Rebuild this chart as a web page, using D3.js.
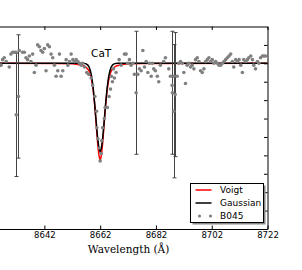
<!DOCTYPE html>
<html>
<meta charset="utf-8">
<script src="https://cdn.jsdelivr.net/npm/d3@7/dist/d3.min.js"></script>
<title>CaT line fit</title>
<style>
body { margin: 0; background: #fff; }
</style>
<body>
<script type="text/javascript">

// observed spectrum (B045)
var specWave = [8626.0, 8626.5, 8627.0, 8627.6, 8628.3, 8629.4, 8630.0, 8630.6, 8631.2, 8631.8,
    8633.0, 8634.2, 8634.8, 8635.4, 8636.0, 8636.6, 8637.2, 8637.8, 8638.4, 8639.0,
    8639.6, 8640.2, 8640.8, 8641.4, 8642.0, 8642.6, 8643.2, 8643.8, 8644.4, 8645.0,
    8645.6, 8646.2, 8646.8, 8647.4, 8648.0, 8648.6, 8649.8, 8650.4, 8651.0, 8651.6,
    8652.2, 8652.8, 8653.4, 8654.0, 8654.6, 8655.2, 8655.7, 8656.4, 8657.2, 8657.9,
    8658.8, 8659.3, 8660.1, 8660.7, 8660.8, 8661.2, 8661.7, 8662.0, 8662.4, 8662.6,
    8662.9, 8663.5, 8663.8, 8664.6, 8665.2, 8665.7, 8666.0, 8666.4, 8666.8, 8667.1,
    8667.7, 8668.8, 8669.5, 8670.7, 8671.3, 8671.9, 8672.5, 8673.1, 8673.7, 8674.3,
    8675.5, 8676.1, 8676.7, 8677.3, 8677.9, 8678.5, 8679.1, 8679.7, 8680.3, 8680.7,
    8681.2, 8681.8, 8682.5, 8683.0, 8683.6, 8684.8, 8685.4, 8686.6, 8687.2, 8687.8,
    8688.4, 8689.6, 8690.2, 8690.8, 8691.4, 8692.0, 8692.6, 8693.2, 8693.8, 8694.4,
    8695.0, 8695.6, 8696.2, 8696.8, 8697.4, 8698.0, 8698.6, 8699.2, 8699.8, 8700.4,
    8701.0, 8701.6, 8702.2, 8702.8, 8703.4, 8704.0, 8704.6, 8705.2, 8705.8, 8706.4,
    8707.0, 8707.6, 8708.2, 8708.8, 8709.4, 8709.9, 8710.6, 8711.2, 8711.8, 8712.4,
    8713.0, 8713.5, 8714.2, 8714.8, 8715.3, 8716.0, 8716.6, 8717.1, 8717.7, 8718.4,
    8718.9, 8719.5, 8720.2, 8720.7, 8721.3];
var specFlux = [0.99, 0.99, 1.02, 1.03, 1.01, 0.98, 1.05, 1.06, 1.06, 1.06,
    1.07, 1.06, 1.06, 1.03, 1.02, 1.04, 1.01, 1.05, 0.95, 0.99,
    1.10, 1.09, 1.07, 1.06, 1.08, 0.96, 1.10, 1.09, 1.05, 1.03,
    0.99, 0.93, 0.96, 1.05, 0.93, 0.96, 1.02, 0.99, 1.01, 1.05,
    1.02, 1.01, 1.02, 1.01, 1.00, 0.99, 1.00, 0.98, 0.95, 0.94,
    0.92, 0.88, 0.82, 0.74, 0.65, 0.59, 0.54, 0.47, 0.51, 0.58,
    0.65, 0.70, 0.76, 0.76, 0.82, 0.86, 0.93, 0.90, 0.97, 0.92,
    0.95, 1.02, 0.99, 1.05, 1.05, 1.00, 1.02, 0.99, 1.00, 0.94,
    0.94, 0.97, 0.96, 1.07, 0.98, 1.01, 0.95, 1.00, 0.93, 1.00,
    0.97, 0.96, 0.93, 0.90, 0.99, 1.01, 1.03, 0.97, 0.93, 0.88,
    0.93, 0.93, 1.00, 1.01, 1.00, 0.95, 0.89, 0.99, 1.00, 0.98,
    0.99, 0.97, 1.02, 1.03, 1.01, 0.96, 0.95, 0.97, 1.01, 1.02,
    1.03, 1.01, 1.02, 1.00, 1.01, 1.00, 0.99, 0.99, 1.00, 1.01,
    1.02, 1.03, 1.04, 1.05, 1.01, 0.98, 1.02, 1.01, 1.02, 0.99,
    0.95, 1.02, 1.01, 1.02, 1.03, 1.04, 1.02, 0.99, 0.97, 1.01,
    1.00, 1.03, 1.04, 1.04, 1.04];

// pixels with large errors
var errWave = [8631.9, 8632.7, 8674.9, 8687.9, 8688.4, 8688.9];
var errFlux = [0.72, 0.82, 0.84, 0.84, 0.74, 0.83];
var errSize = [0.335, 0.335, 0.334, 0.334, 0.362, 0.337];

// fitted profiles
var voigtWave = [8622, 8647, 8652, 8654, 8656, 8657, 8658, 8658.5, 8659, 8659.5,
    8660, 8660.5, 8661, 8661.5, 8662, 8662.5, 8663, 8663.5, 8664, 8664.5,
    8665, 8665.5, 8666, 8667, 8668, 8670, 8672, 8677, 8722];
var voigtFlux = [1.0, 0.999, 0.997, 0.994, 0.987, 0.978, 0.96, 0.94, 0.905, 0.855,
    0.78, 0.685, 0.585, 0.505, 0.47, 0.505, 0.585, 0.685, 0.78, 0.855,
    0.905, 0.94, 0.96, 0.978, 0.987, 0.994, 0.997, 0.999, 1.0];
var gaussWave = [8622, 8656, 8657, 8657.5, 8658, 8658.5, 8659, 8659.5, 8660, 8660.5,
    8661, 8661.5, 8662, 8662.5, 8663, 8663.5, 8664, 8664.5, 8665, 8665.5,
    8666, 8666.5, 8667, 8668, 8722];
var gaussFlux = [1.0, 1.0, 0.997, 0.992, 0.981, 0.96, 0.923, 0.865, 0.787, 0.696,
    0.608, 0.544, 0.52, 0.544, 0.608, 0.696, 0.787, 0.865, 0.923, 0.96,
    0.981, 0.992, 0.997, 1.0, 1.0];

var xTicks = [8622, 8642, 8662, 8682, 8702, 8722];
var yTicks = [0.2, 0.3, 0.4, 0.5, 0.6, 0.7, 0.8, 0.9, 1.0, 1.1];
var legendLabels = ["Voigt", "Gaussian", "B045"];
var lineLabel = "CaT";
var lineCenter = 8662;

var size = { width : 302, height : 270 };
var plot = { left : -11.4, right : 267.5, top : 26.5, bottom : 229 };

var xScale = d3.scaleLinear()
    .domain([8622, 8722])
    .range([plot.left, plot.right]);
var yScale = d3.scaleLinear()
    .domain([0.1, 1.2])
    .range([plot.bottom, plot.top]);

var svg = d3.select("body")
    .append("svg")
    .attr("width", size.width)
    .attr("height", size.height)
    .style("display", "block");

svg.append("rect")
    .attr("width", size.width)
    .attr("height", size.height)
    .attr("fill", "#fff");

function zip(a, b) {
    return a.map(function(d, i) { return {x : d, y : b[i]}; });
}

var line = d3.line()
    .x(function(d) { return xScale(d.x); })
    .y(function(d) { return yScale(d.y); });

svg.append("path")
    .datum(zip(voigtWave, voigtFlux))
    .attr("d", line)
    .attr("fill", "none")
    .attr("stroke", "#ff0000")
    .attr("stroke-width", 1.5);

svg.append("path")
    .datum(zip(gaussWave, gaussFlux))
    .attr("d", line)
    .attr("fill", "none")
    .attr("stroke", "#000")
    .attr("stroke-width", 1.5);

// error bars
var errs = errWave.map(function(w, i) {
    return {x : w, y : errFlux[i], e : errSize[i]};
});
var eb = svg.append("g")
    .attr("stroke", "#444")
    .attr("stroke-width", 1);
eb.selectAll(".bar").data(errs).enter()
    .append("line")
    .attr("x1", function(d) { return Math.round(xScale(d.x)) + 0.5; })
    .attr("x2", function(d) { return Math.round(xScale(d.x)) + 0.5; })
    .attr("y1", function(d) { return yScale(d.y + d.e); })
    .attr("y2", function(d) { return yScale(d.y - d.e); });
[1, -1].forEach(function(s) {
    eb.selectAll(".cap" + s).data(errs).enter()
        .append("line")
        .attr("x1", function(d) { return Math.round(xScale(d.x)) - 1.5; })
        .attr("x2", function(d) { return Math.round(xScale(d.x)) + 2.5; })
        .attr("y1", function(d) { return yScale(d.y + s * d.e); })
        .attr("y2", function(d) { return yScale(d.y + s * d.e); });
});

// data points
svg.append("g")
    .selectAll("circle")
    .data(zip(specWave, specFlux).concat(zip(errWave, errFlux)))
    .enter()
    .append("circle")
    .attr("cx", function(d) { return xScale(d.x); })
    .attr("cy", function(d) { return yScale(d.y); })
    .attr("r", 1.8)
    .attr("fill", "#808080");

svg.append("text")
    .attr("x", xScale(lineCenter) + 1)
    .attr("y", 56.5)
    .attr("text-anchor", "middle")
    .style("font", "10.5px 'DejaVu Sans', sans-serif")
    .text(lineLabel);

// axes, ticks pointing inwards
var gx = svg.append("g")
    .attr("transform", "translate(0," + plot.bottom + ")")
    .call(d3.axisBottom(xScale)
        .tickValues(xTicks)
        .tickFormat(d3.format("d"))
        .tickSizeInner(-3.5)
        .tickSizeOuter(0)
        .tickPadding(3));
gx.selectAll("text")
    .style("font", "8.5px 'DejaVu Sans', sans-serif")
    .attr("fill", "#000");

svg.append("g")
    .attr("transform", "translate(0," + plot.top + ")")
    .call(d3.axisBottom(xScale)
        .tickValues(xTicks)
        .tickFormat("")
        .tickSizeInner(3.5)
        .tickSizeOuter(0));

svg.append("g")
    .attr("transform", "translate(" + plot.right + ",0)")
    .call(d3.axisLeft(yScale)
        .tickValues(yTicks)
        .tickFormat("")
        .tickSizeInner(3.5)
        .tickSizeOuter(0));

svg.append("text")
    .attr("x", (plot.left + plot.right) / 2 + 0.5)
    .attr("y", 253)
    .attr("text-anchor", "middle")
    .style("font", "10.5px 'DejaVu Serif', serif")
    .text("Wavelength (\u00c5)");

// legend
var lg = svg.append("g").attr("transform", "translate(190.5,183.5)");
lg.append("rect")
    .attr("x", 2).attr("y", 2)
    .attr("width", 73).attr("height", 39)
    .attr("fill", "#888");
lg.append("rect")
    .attr("width", 73).attr("height", 39)
    .attr("fill", "#fff")
    .attr("stroke", "#000")
    .attr("stroke-width", 1);

legendLabels.forEach(function(name, i) {
    var yy = 6.5 + i * 13;
    if (i < 2) {
        lg.append("line")
            .attr("x1", 5).attr("x2", 21)
            .attr("y1", yy).attr("y2", yy)
            .attr("stroke", i == 0 ? "#ff0000" : "#000")
            .attr("stroke-width", 1.5);
    } else {
        [9, 20].forEach(function(cx) {
            lg.append("circle")
                .attr("cx", cx).attr("cy", yy)
                .attr("r", 1.6)
                .attr("fill", "#808080");
        });
    }
    lg.append("text")
        .attr("x", 29.5)
        .attr("y", yy + 3.3)
        .style("font", "9px 'DejaVu Sans', sans-serif")
        .text(name);
});

</script>
</body>
</html>
